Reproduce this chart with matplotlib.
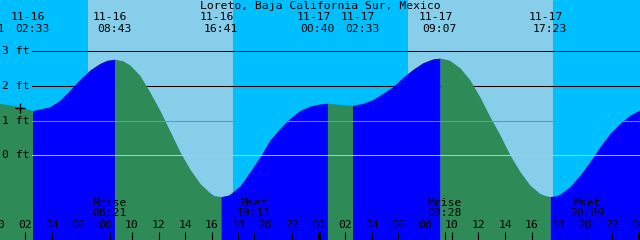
import matplotlib.pyplot as plt

title = "Loreto, Baja California Sur, Mexico"

# hours from 11-16 00:00 and tide height (ft)
curve_h = [-0.82, 0.11, 1.61, 2.55, 3.86, 4.61, 5.36, 6.11, 6.86, 7.61, 8.14, 8.72,
           9.34, 9.86, 10.61, 11.36, 12.11, 12.86, 13.61, 14.36, 15.11, 15.86, 16.16,
           16.68, 17.21, 17.36, 18.11, 18.86, 19.61, 20.36, 21.11, 21.86, 22.61, 23.36,
           24.11, 24.67, 25.61, 26.55, 27.34, 28.09, 28.84, 29.59, 30.34, 31.09, 31.84,
           32.59, 33.12, 33.64, 33.86, 34.61, 35.36, 36.11, 36.86, 37.61, 38.36, 39.11,
           39.86, 40.61, 40.99, 41.38, 41.89, 42.11, 42.86, 43.61, 44.36, 45.11, 45.86,
           46.61, 47.36, 48.11]
curve_ft = [1.52, 1.50, 1.40, 1.29, 1.40, 1.59, 1.88, 2.19, 2.46, 2.65, 2.74, 2.77,
            2.72, 2.60, 2.30, 1.82, 1.29, 0.70, 0.10, -0.40, -0.81, -1.08, -1.16,
            -1.19, -1.15, -1.12, -0.88, -0.47, -0.04, 0.44, 0.78, 1.07, 1.29, 1.42,
            1.48, 1.50, 1.47, 1.44, 1.50, 1.61, 1.79, 1.98, 2.25, 2.48, 2.67,
            2.78, 2.80, 2.76, 2.73, 2.52, 2.17, 1.68, 1.11, 0.59, 0.01, -0.47,
            -0.86, -1.10, -1.16, -1.19, -1.16, -1.12, -0.90, -0.57, -0.18, 0.25, 0.63,
            0.92, 1.16, 1.31]

# highs and lows
event_date = ["11-15", "11-16", "11-16", "11-16", "11-17", "11-17", "11-17", "11-17"]
event_time = ["23:11", "02:33", "08:43", "16:41", "00:40", "02:33", "09:07", "17:23"]

sunrise = ["06:43", "06:43"]
sunset = ["17:35", "17:35"]

moon_kind = ["Mrise", "Mset", "Mrise", "Mset"]
moon_day = [16, 16, 17, 17]
moon_time = ["08:21", "19:11", "09:28", "20:09"]

levels = [0, 1, 2, 3]
mark_h, mark_ft = 1.58, 1.35


def hours(day, t):
    hh, mm = t.split(":")
    return (day - 16) * 24 + int(hh) + int(mm) / 60


PX_H = 640 / 48.0          # pixels per hour
X0, X1 = 1.5 / PX_H, 641.5 / PX_H
Y0, Y1 = (155.3 - 240) / 34.7, 155.3 / 34.7
px = 1 / PX_H

fig = plt.figure(figsize=(6.4, 2.4), dpi=100)
ax = fig.add_axes([0, 0, 1, 1])
ax.set_xlim(X0, X1)
ax.set_ylim(Y0, Y1)
ax.axis("off")
ax.add_patch(plt.Rectangle((X0, Y0), X1 - X0, Y1 - Y0, color="#00bfff", zorder=0))

font = dict(family="DejaVu Sans Mono", fontsize=8.2, color="black")

for d, (r, s) in enumerate(zip(sunrise, sunset)):
    ax.axvspan(hours(16 + d, r), hours(16 + d, s), color="#87ceeb", lw=0, zorder=0.5)

# black level lines under the water, coloured ones on top
line_col = {0: "#92d3ea", 1: "#55a887", 2: "black", 3: "black"}
for lv in levels:
    z = 3 if lv < 2 else 1
    ax.axhline(lv, xmin=32 / 640, xmax=1, color=line_col[lv], lw=0.75, zorder=z)
    ax.text(2 / 640, lv, f"{lv} ft", transform=ax.get_yaxis_transform(),
            ha="left", va="center", **font)

# water: blue while rising, green while falling
ev_h = [hours(int(dd[-2:]), t) for dd, t in zip(event_date, event_time)]
bounds = ev_h + [curve_h[-1]]
for a, b in zip(bounds[:-1], bounds[1:]):
    hs = [h for h in curve_h if a - 0.01 <= h <= b + 0.01]
    fs = [f for h, f in zip(curve_h, curve_ft) if a - 0.01 <= h <= b + 0.01]
    col = "#0000ff" if fs[-1] > fs[0] else "#2e8b57"
    ax.fill_between(hs, fs, Y0 - 1, color=col, lw=0, zorder=2)

ax.plot(mark_h, mark_ft, marker="+", color="black", ms=6.5, mew=1, zorder=4)

# labels at the top
xt = ax.get_xaxis_transform()
ax.text(320 / 640, 1 - 6 / 240, title, transform=ax.transAxes, ha="center", va="center", **font)
shift = [0, 0, 0, 0, -9.5, 10, 0, 0]
for h, dd, t, s in zip(ev_h, event_date, event_time, shift):
    ax.text(h + (s - 4.5) * px, 1 - 17.5 / 240, dd, transform=xt, ha="center", va="center", **font)
    ax.text(h + (s - 0.5) * px, 1 - 29.5 / 240, t, transform=xt, ha="center", va="center", **font)

# hour ticks and labels at the bottom
tick_lo = (155.3 - 231.5) / 34.7
for h in range(0, 50, 2):
    w = 2.2 if h % 24 == 0 else 0.8
    ax.vlines(h, Y0, tick_lo, color="black", lw=w, zorder=4)
    ax.text(h, 1 - 225.5 / 240, f"{h % 24:02d}", transform=xt, ha="center", va="center", **font)

for k, d, t in zip(moon_kind, moon_day, moon_time):
    h = hours(d, t)
    ax.vlines(h, Y0, tick_lo, color="black", lw=0.8, zorder=4)
    ax.text(h, 1 - 202.5 / 240, k, transform=xt, ha="center", va="center", **font)
    ax.text(h, 1 - 213.5 / 240, t, transform=xt, ha="center", va="center", **font)

fig.savefig("out.png", dpi=100)
